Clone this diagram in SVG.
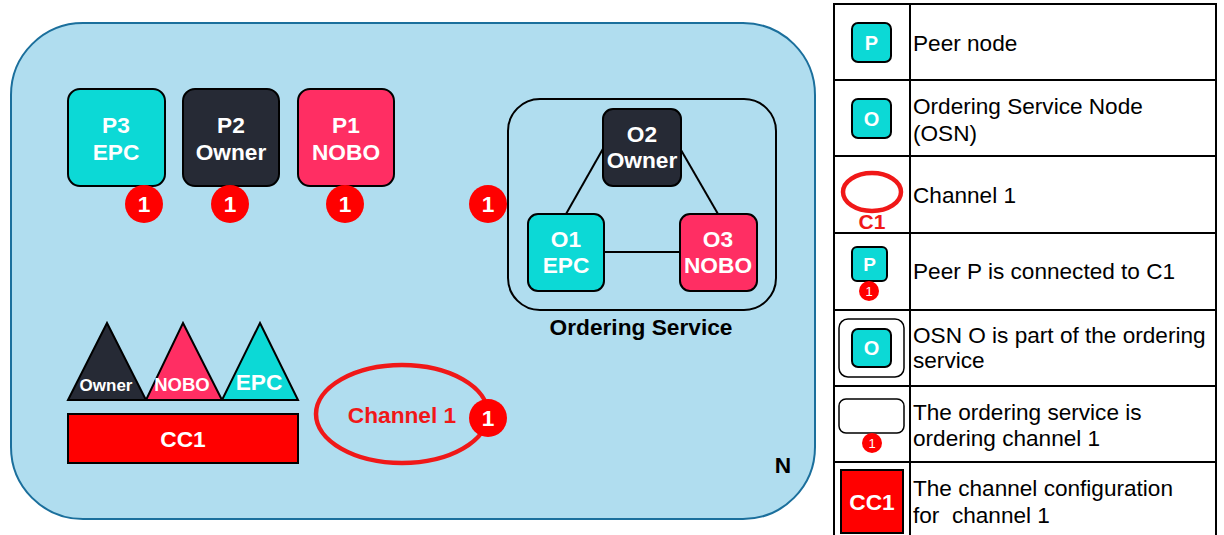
<svg xmlns="http://www.w3.org/2000/svg" width="1224" height="535" viewBox="0 0 1224 535">
  <style>
    .lbl { font-family: "Liberation Sans", Arial, sans-serif; font-weight: bold; fill: #ffffff; text-anchor: middle; }
    .f22 { font-size: 22.7px; }
    .node { stroke: #000000; stroke-width: 2; }
    .teal { fill: #0cd9d6; }
    .dark { fill: #262a35; }
    .pink { fill: #ff2e63; }
    .badge { fill: #ff0000; }
    .edge { stroke: #000000; stroke-width: 2; fill: none; }
    .leg { font-family: "Liberation Sans", Arial, sans-serif; font-size: 22.6px; fill: #000000; }
    .grid { stroke: #000000; stroke-width: 2; fill: none; }
  </style>

  <rect width="1224" height="535" fill="#ffffff"/>

  <!-- network N -->
  <g id="network">
    <rect x="11" y="23" width="804" height="496" rx="72" ry="72" fill="#b0ddef" stroke="#1b6f9c" stroke-width="2"/>
    <text class="lbl" x="783" y="473" style="fill:#000000;font-size:22.7px">N</text>
  </g>

  <!-- peers -->
  <g id="p3">
    <rect class="node teal" x="68" y="89" width="97" height="97" rx="12"/>
    <text class="lbl f22" x="116" y="133">P3</text>
    <text class="lbl f22" x="116" y="160">EPC</text>
    <circle class="badge" cx="144" cy="204" r="19"/>
    <text class="lbl f22" x="144" y="212">1</text>
  </g>
  <g id="p2">
    <rect class="node dark" x="183" y="89" width="96" height="97" rx="12"/>
    <text class="lbl f22" x="231" y="133">P2</text>
    <text class="lbl f22" x="231" y="160">Owner</text>
    <circle class="badge" cx="230" cy="204" r="19"/>
    <text class="lbl f22" x="230" y="212">1</text>
  </g>
  <g id="p1">
    <rect class="node pink" x="298" y="89" width="96" height="97" rx="12"/>
    <text class="lbl f22" x="346" y="133">P1</text>
    <text class="lbl f22" x="346" y="160">NOBO</text>
    <circle class="badge" cx="345" cy="204" r="19"/>
    <text class="lbl f22" x="345" y="212">1</text>
  </g>

  <!-- ordering service -->
  <g id="ordering-service">
    <rect x="508" y="99" width="268" height="211" rx="32" fill="none" stroke="#000000" stroke-width="2"/>
    <text class="lbl f22" x="641" y="335" style="fill:#000000">Ordering Service</text>
    <circle class="badge" cx="488" cy="204" r="19"/>
    <text class="lbl f22" x="488" y="212">1</text>
  </g>

  <g id="connectors">
    <line class="edge" x1="604" y1="147" x2="566" y2="214"/>
    <line class="edge" x1="681" y1="150" x2="718" y2="214"/>
    <line class="edge" x1="604" y1="252" x2="680" y2="252"/>
  </g>

  <g id="o2">
    <rect class="node dark" x="603" y="109" width="78" height="77" rx="10"/>
    <text class="lbl f22" x="642" y="142">O2</text>
    <text class="lbl f22" x="642" y="168">Owner</text>
  </g>
  <g id="o1">
    <rect class="node teal" x="528" y="214" width="76" height="77" rx="10"/>
    <text class="lbl f22" x="566" y="247">O1</text>
    <text class="lbl f22" x="566" y="273">EPC</text>
  </g>
  <g id="o3">
    <rect class="node pink" x="680" y="214" width="77" height="77" rx="10"/>
    <text class="lbl f22" x="718" y="247">O3</text>
    <text class="lbl f22" x="718" y="273">NOBO</text>
  </g>

  <!-- channel configuration -->
  <g id="policies">
    <polygon class="node dark" points="107,323 146,400 68,400"/>
    <polygon class="node pink" points="183,323 222,400 146,400"/>
    <polygon class="node teal" points="260,323 298,400 222,400"/>
    <text class="lbl" x="106" y="391" style="font-size:17px">Owner</text>
    <text class="lbl" x="182" y="391" style="font-size:18.5px">NOBO</text>
    <text class="lbl f22" x="259" y="390">EPC</text>
  </g>
  <g id="cc1">
    <rect class="node" x="68" y="414" width="230" height="49" fill="#ff0000"/>
    <text class="lbl f22" x="183" y="447">CC1</text>
  </g>

  <g id="channel1">
    <ellipse cx="402" cy="414" rx="86" ry="49" fill="none" stroke="#f01818" stroke-width="4.5"/>
    <text class="lbl f22" x="402" y="423" style="fill:#f01818">Channel 1</text>
    <circle class="badge" cx="488" cy="418" r="19"/>
    <text class="lbl f22" x="488" y="426">1</text>
  </g>

  <!-- legend -->
  <g id="legend">
    <rect x="834" y="4" width="382" height="540" fill="#ffffff" class="grid"/>
    <line class="grid" x1="910" y1="4" x2="910" y2="535"/>
    <line class="grid" x1="834" y1="80" x2="1216" y2="80"/>
    <line class="grid" x1="834" y1="156" x2="1216" y2="156"/>
    <line class="grid" x1="834" y1="233" x2="1216" y2="233"/>
    <line class="grid" x1="834" y1="310" x2="1216" y2="310"/>
    <line class="grid" x1="834" y1="386" x2="1216" y2="386"/>
    <line class="grid" x1="834" y1="462" x2="1216" y2="462"/>

    <g id="legend-peer">
      <rect class="node teal" x="852" y="23" width="39" height="39" rx="6"/>
      <text class="lbl" x="871.5" y="50" style="font-size:20px">P</text>
      <text class="leg" x="913" y="51">Peer node</text>
    </g>
    <g id="legend-osn">
      <rect class="node teal" x="852" y="99" width="39" height="39" rx="6"/>
      <text class="lbl" x="871.5" y="126" style="font-size:20px">O</text>
      <text class="leg" x="913" y="114">Ordering Service Node</text>
      <text class="leg" x="913" y="141">(OSN)</text>
    </g>
    <g id="legend-channel">
      <ellipse cx="872" cy="192" rx="29" ry="19" fill="none" stroke="#f01818" stroke-width="4.5"/>
      <text class="lbl" x="872" y="229" style="font-size:21px;fill:#f01818">C1</text>
      <text class="leg" x="913" y="203">Channel 1</text>
    </g>
    <g id="legend-peer-channel">
      <rect class="node teal" x="852" y="247" width="35" height="34" rx="5"/>
      <text class="lbl" x="869.5" y="271" style="font-size:19px">P</text>
      <circle class="badge" cx="869" cy="291" r="10"/>
      <text class="lbl" x="869" y="296" style="font-size:13px;font-weight:normal">1</text>
      <text class="leg" x="913" y="279">Peer P is connected to C1</text>
    </g>
    <g id="legend-osn-member">
      <rect x="839" y="319" width="65" height="58" rx="9" fill="#ffffff" stroke="#000000" stroke-width="1.5"/>
      <rect class="node teal" x="852" y="329" width="39" height="38" rx="6"/>
      <text class="lbl" x="871.5" y="355" style="font-size:20px">O</text>
      <text class="leg" x="913" y="343">OSN O is part of the ordering</text>
      <text class="leg" x="913" y="368">service</text>
    </g>
    <g id="legend-os-channel">
      <rect x="839" y="399" width="65" height="34" rx="7" fill="#ffffff" stroke="#000000" stroke-width="1.5"/>
      <circle class="badge" cx="872" cy="443" r="10"/>
      <text class="lbl" x="872" y="448" style="font-size:13px;font-weight:normal">1</text>
      <text class="leg" x="913" y="420">The ordering service is</text>
      <text class="leg" x="913" y="446">ordering channel 1</text>
    </g>
    <g id="legend-cc">
      <rect class="node" x="841" y="470" width="62" height="63" fill="#ff0000"/>
      <text class="lbl f22" x="872" y="510">CC1</text>
      <text class="leg" x="913" y="496">The channel configuration</text>
      <text class="leg" x="913" y="523" xml:space="preserve">for  channel 1</text>
    </g>
  </g>
</svg>
